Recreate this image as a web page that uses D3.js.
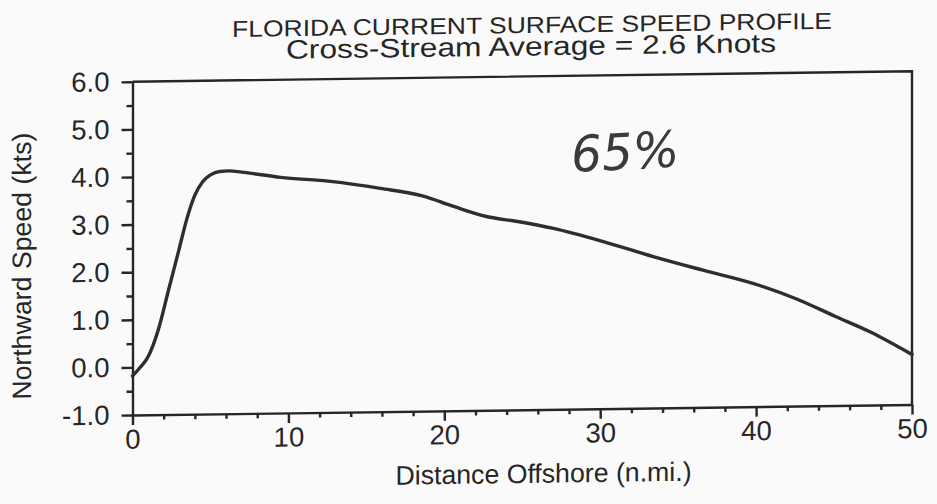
<!DOCTYPE html>
<html>
<head>
<meta charset="utf-8">
<script src="https://cdn.jsdelivr.net/npm/d3@7"></script>
<style>
  html, body { margin: 0; padding: 0; background: #fafafa; }
  svg { display: block; }
  text { font-family: "Liberation Sans", Arial, Helvetica, sans-serif; fill: #262626; }
</style>
</head>
<body>
<svg id="chart" width="937" height="504"></svg>
<script>
// Surface speed profile across the Florida Current
const distanceNmi = [0, 0.5, 1.0, 1.65, 2.3, 2.95, 3.5, 4.0, 4.5, 5.0, 5.6, 6.2, 7.0, 9.5, 12.7, 15.9, 18.6, 20.6, 22.7, 24.8, 27.0, 30.2, 33.4, 36.6, 39.8, 42.6, 45.1, 47.3, 50.0];
const speedKts    = [-0.18, 0.0, 0.22, 0.78, 1.60, 2.42, 3.12, 3.60, 3.88, 4.02, 4.09, 4.10, 4.07, 3.95, 3.85, 3.69, 3.52, 3.29, 3.07, 2.95, 2.80, 2.51, 2.18, 1.88, 1.59, 1.25, 0.87, 0.54, 0.05];

const xMajorTicks = [0, 10, 20, 30, 40, 50];
const xMinorTicks = [2, 4, 6, 8, 12, 14, 16, 18, 22, 24, 26, 28, 32, 34, 36, 38, 42, 44, 46, 48];
const yMajorTicks = [-1, 0, 1, 2, 3, 4, 5, 6];
const yMinorTicks = [-0.5, 0.5, 1.5, 2.5, 3.5, 4.5, 5.5];

const titleLines = ["FLORIDA CURRENT SURFACE SPEED PROFILE", "Cross-Stream Average = 2.6 Knots"];
const xAxisTitle = "Distance Offshore (n.mi.)";
const yAxisTitle = "Northward Speed (kts)";
const noteText = "65%";

const svg = d3.select("#chart");

// the whole sheet sits slightly skewed on the page
const g = svg.append("g").attr("transform", "skewY(-0.77)");

const x = d3.scaleLinear().domain([0, 50]).range([132.5, 912]);
const y = d3.scaleLinear().domain([-1, 6]).range([416.8, 83.5]);

const ink = "#262626";

// frame: top and right edges
g.append("path")
  .attr("d", `M${x(0)},${y(6)}H${x(50)}V${y(-1)}`)
  .attr("fill", "none")
  .attr("stroke", ink)
  .attr("stroke-width", 2.4);

// left axis
g.append("g")
  .attr("transform", `translate(${x(0)},0)`)
  .call(d3.axisLeft(y).tickValues(yMajorTicks).tickSize(11).tickSizeOuter(0)
    .tickPadding(12).tickFormat(d => d.toFixed(1)));
g.append("g")
  .attr("transform", `translate(${x(0)},0)`)
  .call(d3.axisLeft(y).tickValues(yMinorTicks).tickSize(6).tickSizeOuter(0).tickFormat(""))
  .call(a => a.select(".domain").remove());

// bottom axis
g.append("g")
  .attr("transform", `translate(0,${y(-1)})`)
  .call(d3.axisBottom(x).tickValues(xMajorTicks).tickSize(10).tickSizeOuter(0)
    .tickPadding(4).tickFormat(d3.format("d")));
g.append("g")
  .attr("transform", `translate(0,${y(-1)})`)
  .call(d3.axisBottom(x).tickValues(xMinorTicks).tickSize(5).tickSizeOuter(0).tickFormat(""))
  .call(a => a.select(".domain").remove());

g.selectAll(".domain, .tick line").attr("stroke", ink).attr("stroke-width", 2.4);
g.selectAll(".tick text")
  .attr("font-size", 27.5)
  .attr("fill", ink)
  .style("font-family", "'Liberation Sans', Arial, sans-serif");

// speed profile
const line = d3.line()
  .x((d, i) => x(distanceNmi[i]))
  .y(d => y(d))
  .curve(d3.curveMonotoneX);

g.append("path")
  .datum(speedKts)
  .attr("d", line)
  .attr("fill", "none")
  .attr("stroke", "#2e2e2e")
  .attr("stroke-width", 3.4)
  .attr("stroke-linejoin", "round")
  .attr("stroke-linecap", "round");

// titles
g.append("text")
  .attr("x", 532).attr("y", 40)
  .attr("text-anchor", "middle")
  .attr("font-size", 23)
  .attr("textLength", 600)
  .attr("lengthAdjust", "spacingAndGlyphs")
  .text(titleLines[0]);

g.append("text")
  .attr("x", 531).attr("y", 62.5)
  .attr("text-anchor", "middle")
  .attr("font-size", 26.5)
  .attr("textLength", 490)
  .attr("lengthAdjust", "spacingAndGlyphs")
  .text(titleLines[1]);

// axis titles
g.append("text")
  .attr("x", 543.5).attr("y", 490)
  .attr("text-anchor", "middle")
  .attr("font-size", 26.7)
  .text(xAxisTitle);

g.append("text")
  .attr("transform", "translate(31,266.5) rotate(-90)")
  .attr("text-anchor", "middle")
  .attr("font-size", 26.7)
  .text(yAxisTitle);

// pencil note
svg.append("text")
  .attr("transform", "translate(572,172) rotate(-3)")
  .attr("font-size", 50)
  .attr("font-style", "italic")
  .attr("font-weight", 200)
  .attr("textLength", 108)
  .attr("lengthAdjust", "spacingAndGlyphs")
  .style("font-family", "'DejaVu Sans', sans-serif")
  .style("fill", "#3a3a3a")
  .text(noteText);
</script>
</body>
</html>
